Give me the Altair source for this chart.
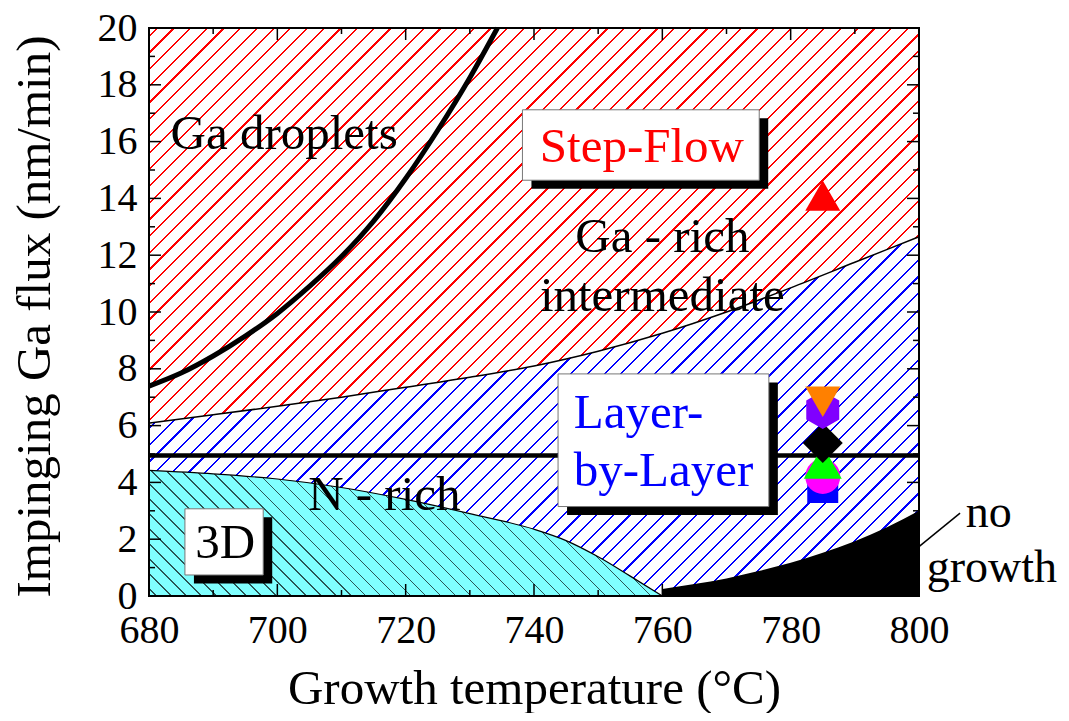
import math
import altair as alt
import pandas as pd

# ---------------- data ----------------
W, H = 770, 568
X_DOMAIN = [680, 800]
Y_DOMAIN = [0, 20]

# Ga droplet boundary (thick black curve)
drop_T = [680, 685, 690, 695, 700, 705, 710, 715, 720, 725, 730, 734.3]
drop_F = [7.39, 7.85, 8.45, 9.15, 9.95, 10.9, 11.95, 13.2, 14.7, 16.4, 18.25, 20.0]

# Ga-rich intermediate / layer-by-layer boundary (thin line)
rb_T = [680, 690, 700, 710, 720, 730, 740, 750, 760, 770, 780, 790, 800]
rb_F = [6.09, 6.38, 6.68, 7.0, 7.35, 7.7, 8.1, 8.62, 9.25, 10.0, 10.85, 11.75, 12.65]

# N-rich / 3D boundary
nr_T = [680, 690, 700, 710, 720, 730, 740, 745, 750, 755, 760]
nr_F = [4.42, 4.3, 4.12, 3.82, 3.4, 2.9, 2.35, 1.95, 1.38, 0.7, 0.0]

# no-growth boundary
ng_T = [760, 765, 770, 775, 780, 785, 790, 795, 800]
ng_F = [0.25, 0.42, 0.62, 0.88, 1.17, 1.52, 1.93, 2.42, 3.0]

# stoichiometric flux line
hl_T = [680, 800]
hl_F = [4.95, 4.95]

# samples
samples = ["S1", "S2", "S3", "S4", "S5", "S6", "S7"]
mk_T = [785, 785, 785, 785, 785, 785, 785]
mk_F = [3.82, 4.21, 4.71, 5.39, 6.55, 6.84, 14.1]
HEX = "M0,-1L0.866,-0.5L0.866,0.5L0,1L-0.866,0.5L-0.866,-0.5Z"
mk_shapes = ["square", "circle", "triangle-up", "diamond", HEX, "triangle-down", "triangle-up"]
mk_colors = ["#0000FF", "#FF00FF", "#00FF00", "#000000", "#8000FF", "#FF8000", "#FF0000"]
mk_sizes = [961, 1225, 1444, 1600, 1450, 1225, 1225]

# region labels
lab_left = ["Ga droplets", "N - rich", "3D"]
lab_left_T = [683.35, 704.8, 687.2]
lab_left_F = [15.73, 3.03, 1.33]
lab_center = ["Ga - rich", "intermediate"]
lab_center_T = [760, 760]
lab_center_F = [12.11, 10.03]
lab_red = ["Step-Flow"]
lab_red_T = [740.9]
lab_red_F = [15.28]
lab_blue = ["Layer-", "by-Layer"]
lab_blue_T = [746.2, 746.2]
lab_blue_F = [5.92, 3.86]
lab_out = ["no", "growth"]
lab_out_T = [807.3, 801.2]
lab_out_F = [2.44, 0.5]

# label boxes
box_T = [738.2, 743.75, 685.6]
box_T2 = [775.1, 776.6, 697.8]
box_F = [17.12, 7.82, 3.07]
box_F2 = [14.64, 3.15, 0.74]

# leader line for "no growth"
lead_T, lead_T2 = [800.0], [806.4]
lead_F, lead_F2 = [1.74], [2.92]

# ticks
x_major = [680, 700, 720, 740, 760, 780, 800]
x_minor = [690, 710, 730, 750, 770, 790]
y_major = [0, 2, 4, 6, 8, 10, 12, 14, 16, 18, 20]
y_minor = [1, 3, 5, 7, 9, 11, 13, 15, 17, 19]

FONT = "Liberation Serif"


# ---------------- hatch patterns as striped gradients ----------------
def hatch(line_col, bg_col, w, h, period, lw, backslash=False):
    s = w + h
    dt = period * math.sqrt(2) / s
    hw = lw * math.sqrt(2) / s / 2
    stops = [alt.GradientStop(offset=0, color=bg_col)]
    c = dt / 2
    while c + hw < 1:
        a, b = round(c - hw, 5), round(c + hw, 5)
        stops += [
            alt.GradientStop(offset=a, color=bg_col),
            alt.GradientStop(offset=a, color=line_col),
            alt.GradientStop(offset=b, color=line_col),
            alt.GradientStop(offset=b, color=bg_col),
        ]
        c += dt
    stops.append(alt.GradientStop(offset=1, color=bg_col))
    k = w * s / (w * w + h * h)
    if backslash:
        return alt.LinearGradient(gradient="linear", stops=stops,
                                  x1=0, y1=1, x2=round(k, 5), y2=round(1 - k * h / w, 5))
    return alt.LinearGradient(gradient="linear", stops=stops,
                              x1=0, y1=0, x2=round(k, 5), y2=round(k * h / w, 5))


def px_w(t0, t1):
    return W * (t1 - t0) / (X_DOMAIN[1] - X_DOMAIN[0])


def px_h(f):
    return H * f / (Y_DOMAIN[1] - Y_DOMAIN[0])


red_fill = hatch("#FF0000", "#FFFFFF", W, H, 11.8, 1.6)
blue_fill = hatch("#0000FF", "#FFFFFF", W, px_h(max(rb_F)), 11.8, 1.6)
cyan_fill = hatch("#2A5555", "#80FFFF", px_w(nr_T[0], nr_T[-1]), px_h(max(nr_F)), 10.6, 0.9,
                  backslash=True)

# ---------------- scales & axes ----------------
xs = alt.Scale(domain=X_DOMAIN, nice=False, zero=False)
ys = alt.Scale(domain=Y_DOMAIN, nice=False, zero=False)

x_axis = alt.Axis(values=x_major, format="d", title="Growth temperature (°C)", grid=False,
                  domain=False, ticks=False, tickSize=0, labelPadding=14,
                  labelFont=FONT, labelFontSize=40, labelColor="black", labelFlush=False,
                  labelOverlap=False, titleFont=FONT, titleFontSize=49,
                  titleFontWeight="normal", titleColor="black", titleBaseline="alphabetic",
                  titleX=W / 2, titleY=107)
y_axis = alt.Axis(values=y_major, format="d", title="Impinging Ga flux (nm/min)", grid=False,
                  domain=False, ticks=False, tickSize=0, labelPadding=12,
                  labelFont=FONT, labelFontSize=40, labelColor="black", labelFlush=False,
                  labelOverlap=False, titleFont=FONT, titleFontSize=49,
                  titleFontWeight="normal", titleColor="black", titleBaseline="alphabetic",
                  titleAngle=270, titleAlign="center", titleX=-100, titleY=288)

one = pd.DataFrame({"a": [0]})

rb_df = pd.DataFrame({"T": rb_T, "F": rb_F})
drop_df = pd.DataFrame({"T": drop_T, "F": drop_F})
nr_df = pd.DataFrame({"T": nr_T, "F": nr_F})
ng_df = pd.DataFrame({"T": ng_T, "F": ng_F})
hl_df = pd.DataFrame({"T": hl_T, "F": hl_F})
mk_df = pd.DataFrame({"sample": samples, "T": mk_T, "F": mk_F})
box_df = pd.DataFrame({"T": box_T, "T2": box_T2, "F": box_F, "F2": box_F2})

# regions
red_region = alt.Chart(one).mark_rect(color=red_fill).encode(
    x=alt.datum(X_DOMAIN[0]), x2=alt.datum(X_DOMAIN[1]),
    y=alt.datum(Y_DOMAIN[0]), y2=alt.datum(Y_DOMAIN[1]))

blue_region = alt.Chart(rb_df).mark_area(color=blue_fill).encode(
    x=alt.X("T:Q", scale=xs, axis=x_axis),
    y=alt.Y("F:Q", scale=ys, axis=y_axis),
    y2=alt.datum(0))

cyan_region = alt.Chart(nr_df).mark_area(color=cyan_fill, interpolate="monotone").encode(
    x="T:Q", y="F:Q", y2=alt.datum(0))

black_region = alt.Chart(ng_df).mark_area(color="black", interpolate="monotone").encode(
    x="T:Q", y="F:Q", y2=alt.datum(0))

rb_line = alt.Chart(rb_df).mark_line(color="black", strokeWidth=1.5, interpolate="monotone").encode(
    x="T:Q", y="F:Q")
nr_line = alt.Chart(nr_df).mark_line(color="black", strokeWidth=1.2, interpolate="monotone").encode(
    x="T:Q", y="F:Q")
drop_line = alt.Chart(drop_df).mark_line(color="black", strokeWidth=5, interpolate="monotone").encode(
    x="T:Q", y="F:Q")
h_line = alt.Chart(hl_df).mark_line(color="black", strokeWidth=4.5).encode(x="T:Q", y="F:Q")

shadows = alt.Chart(box_df).mark_rect(color="black", xOffset=9, x2Offset=9,
                                      yOffset=8.5, y2Offset=8.5).encode(
    x="T:Q", x2="T2:Q", y="F:Q", y2="F2:Q")
boxes = alt.Chart(box_df).mark_rect(fill="white", stroke="#777777", strokeWidth=1).encode(
    x="T:Q", x2="T2:Q", y="F:Q", y2="F2:Q")


def text_layer(labels, ts, fs, color, align="left", size=49):
    df = pd.DataFrame({"label": labels, "T": ts, "F": fs})
    return alt.Chart(df).mark_text(font=FONT, fontSize=size, align=align, baseline="alphabetic",
                                   color=color).encode(x="T:Q", y="F:Q", text="label:N")


t_left = text_layer(lab_left, lab_left_T, lab_left_F, "black")
t_center = text_layer(lab_center, lab_center_T, lab_center_F, "black", align="center")
t_red = text_layer(lab_red, lab_red_T, lab_red_F, "#FF0000")
t_blue = text_layer(lab_blue, lab_blue_T, lab_blue_F, "#0000FF")
t_out = text_layer(lab_out, lab_out_T, lab_out_F, "black", size=46)

lead = alt.Chart(pd.DataFrame({"T": lead_T, "T2": lead_T2, "F": lead_F, "F2": lead_F2})).mark_rule(
    color="black", strokeWidth=1.5).encode(x="T:Q", x2="T2:Q", y="F:Q", y2="F2:Q")

markers = alt.Chart(mk_df).mark_point(filled=True, opacity=1, strokeWidth=0).encode(
    x="T:Q", y="F:Q",
    shape=alt.Shape("sample:N", scale=alt.Scale(domain=samples, range=mk_shapes), legend=None),
    color=alt.Color("sample:N", scale=alt.Scale(domain=samples, range=mk_colors), legend=None),
    size=alt.Size("sample:N", scale=alt.Scale(type="ordinal", domain=samples, range=mk_sizes),
                  legend=None))


def ticks_x(vals, length):
    df = pd.DataFrame({"v": vals})
    b = alt.Chart(df).mark_rule(color="black", strokeWidth=1.5).encode(
        x="v:Q", y=alt.value(H), y2=alt.value(H - length))
    t = alt.Chart(df).mark_rule(color="black", strokeWidth=1.5).encode(
        x="v:Q", y=alt.value(0), y2=alt.value(length))
    return [b, t]


def ticks_y(vals, length):
    df = pd.DataFrame({"v": vals})
    l = alt.Chart(df).mark_rule(color="black", strokeWidth=1.5).encode(
        y="v:Q", x=alt.value(0), x2=alt.value(length))
    r = alt.Chart(df).mark_rule(color="black", strokeWidth=1.5).encode(
        y="v:Q", x=alt.value(W), x2=alt.value(W - length))
    return [l, r]


frame = alt.Chart(one).mark_rect(filled=False, stroke="black", strokeWidth=2).encode(
    x=alt.value(0), x2=alt.value(W), y=alt.value(0), y2=alt.value(H))

layers = [red_region, blue_region, cyan_region, black_region,
          rb_line, nr_line, drop_line, h_line, shadows, boxes,
          t_left, t_center, t_red, t_blue, markers]
layers += ticks_x(x_major, 12) + ticks_x(x_minor, 6) + ticks_y(y_major, 12) + ticks_y(y_minor, 6)
layers += [frame, lead, t_out]

chart = alt.layer(*layers).properties(
    width=W, height=H,
    autosize=alt.AutoSizeParams(type="none"),
    padding={"left": 141, "top": 20, "right": 142, "bottom": 117},
).configure_view(stroke="black", strokeWidth=2).configure_axis(
    labelFont=FONT, titleFont=FONT
).configure(background="white")

chart.save("out.html", embed_options={"renderer": "svg", "actions": False})
